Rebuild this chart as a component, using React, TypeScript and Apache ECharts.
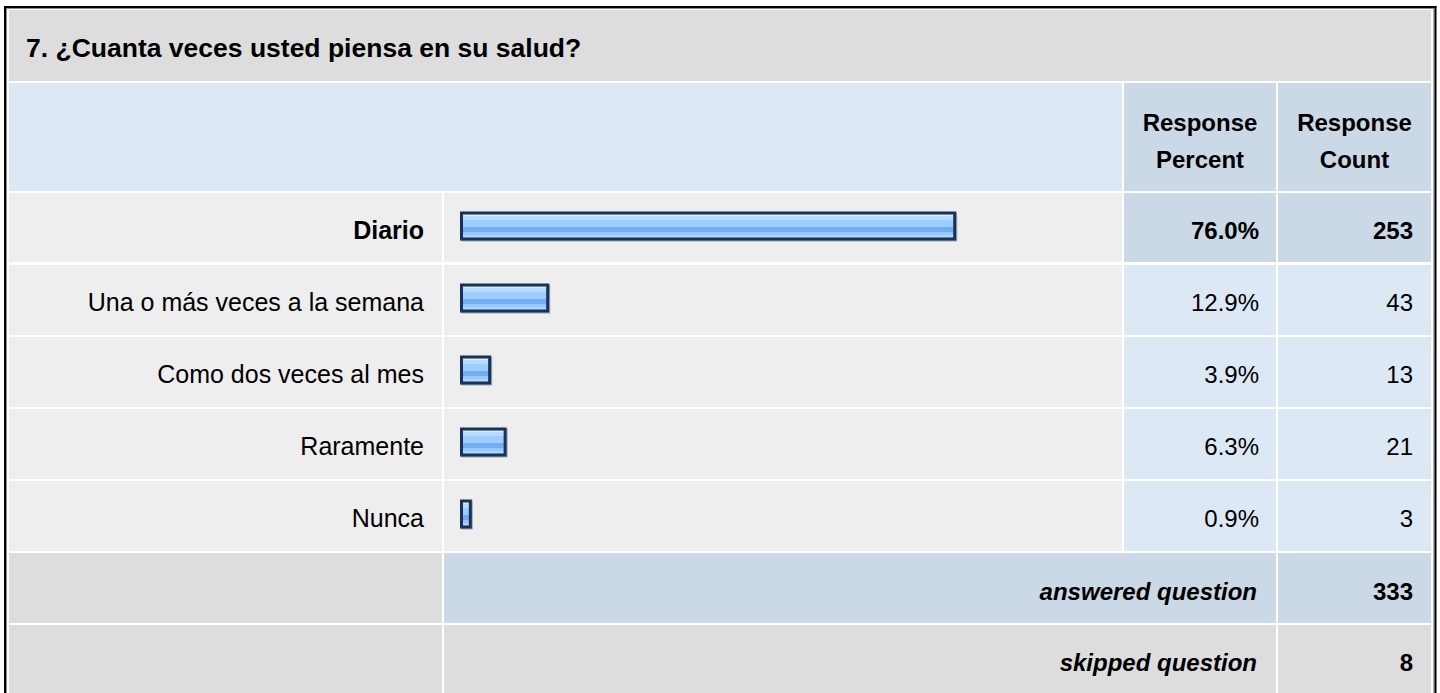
import React, { useEffect, useRef } from "react";
import * as echarts from "echarts";

const title = "7. ¿Cuanta veces usted piensa en su salud?";
const categories = [
  "Diario",
  "Una o más veces a la semana",
  "Como dos veces al mes",
  "Raramente",
  "Nunca",
];
const percents = [76.0, 12.9, 3.9, 6.3, 0.9];
const counts = [253, 43, 13, 21, 3];
const headerPercent = ["Response", "Percent"];
const headerCount = ["Response", "Count"];
const summaryLabels = ["answered question", "skipped question"];
const summaryCounts = [333, 8];

const FONT = '"Liberation Sans", Arial, Helvetica, sans-serif';
const FS = 25;

// layout (page pixels)
const COL = { l0: 9, l1: 442, b0: 444, b1: 1122, p0: 1124, p1: 1276, c0: 1278, c1: 1431 };
const TITLE_ROW = [10, 81];
const HEAD_ROW = [83, 191];
const DATA_ROWS = [
  [193, 262],
  [265, 335],
  [337, 407],
  [409, 479],
  [481, 551],
];
const SUM_ROWS = [
  [553, 623],
  [625, 693],
];

const C_TITLE = "#dddddd";
const C_HEAD = "#dde8f5";
const C_HEAD2 = "#cbd8e6";
const C_ROW = "#eeeeee";
const C_VAL = "#dde8f5";
const C_VALMAX = "#cbd8e6";

function rect(x0: number, x1: number, y0: number, y1: number, fill: string) {
  return { type: "rect", z: 0, shape: { x: x0, y: y0, width: x1 - x0, height: y1 - y0 }, style: { fill } };
}
function text(t: string, x: number, y: number, align: string, opts: any = {}) {
  return {
    type: "text",
    z: 10,
    x,
    y,
    style: {
      text: t,
      fontSize: FS,
      fontFamily: FONT,
      fill: "#000",
      align,
      verticalAlign: "middle",
      ...opts,
    },
  };
}

const barFill = () =>
  new echarts.graphic.LinearGradient(0, 0, 0, 1, [
    { offset: 0, color: "#d2ebff" },
    { offset: 0.12, color: "#d2ebff" },
    { offset: 0.12, color: "#b6dbff" },
    { offset: 0.26, color: "#b6dbff" },
    { offset: 0.26, color: "#9ccdff" },
    { offset: 0.52, color: "#9ccdff" },
    { offset: 0.52, color: "#75adf2" },
    { offset: 0.72, color: "#75adf2" },
    { offset: 0.72, color: "#96c8fd" },
    { offset: 0.86, color: "#96c8fd" },
    { offset: 0.86, color: "#aed5ff" },
    { offset: 1, color: "#aed5ff" },
  ]);

export default function App() {
  const ref = useRef<HTMLDivElement>(null);
  useEffect(() => {
    const chart = echarts.init(ref.current!, null, { renderer: "svg", width: 1440, height: 693 });
    const maxIdx = counts.indexOf(Math.max(...counts));
    const els: any[] = [];
    // outer border
    els.push(rect(4, 1436.5, 6, 8, "#000"));
    els.push(rect(4, 6, 6, 693, "#000"));
    els.push(rect(1434.3, 1436.5, 6, 693, "#000"));
    els.push(rect(6, 1434.3, 8, 9, "#8a8a8a"));
    els.push(rect(6, 7, 8, 693, "#8a8a8a"));
    els.push(rect(1433.3, 1434.3, 8, 693, "#8a8a8a"));
    // title
    els.push(rect(COL.l0, COL.c1, TITLE_ROW[0], TITLE_ROW[1], C_TITLE));
    els.push(text(title, 26, 48, "left", { fontWeight: "bold", fontSize: 26.5 }));
    // header
    els.push(rect(COL.l0, COL.b1, HEAD_ROW[0], HEAD_ROW[1], C_HEAD));
    els.push(rect(COL.p0, COL.p1, HEAD_ROW[0], HEAD_ROW[1], C_HEAD2));
    els.push(rect(COL.c0, COL.c1, HEAD_ROW[0], HEAD_ROW[1], C_HEAD2));
    const pcx = (COL.p0 + COL.p1) / 2;
    const ccx = (COL.c0 + COL.c1) / 2;
    headerPercent.forEach((t, i) => els.push(text(t, pcx, 122 + i * 37.5, "center", { fontWeight: "bold", fontSize: 24 })));
    headerCount.forEach((t, i) => els.push(text(t, ccx, 122 + i * 37.5, "center", { fontWeight: "bold", fontSize: 24 })));
    // data rows
    DATA_ROWS.forEach((r, i) => {
      const vc = i === maxIdx ? C_VALMAX : C_VAL;
      els.push(rect(COL.l0, COL.l1, r[0], r[1], C_ROW));
      els.push(rect(COL.b0, COL.b1, r[0], r[1], C_ROW));
      els.push(rect(COL.p0, COL.p1, r[0], r[1], vc));
      els.push(rect(COL.c0, COL.c1, r[0], r[1], vc));
    });
    // summary rows
    SUM_ROWS.forEach((r, i) => {
      const mid = i === 0 ? C_HEAD2 : C_TITLE;
      els.push(rect(COL.l0, COL.l1, r[0], r[1], C_TITLE));
      els.push(rect(COL.b0, COL.p1, r[0], r[1], mid));
      els.push(rect(COL.c0, COL.c1, r[0], r[1], mid));
      const cy = (r[0] + r[1]) / 2 + 3;
      els.push(text(summaryLabels[i], 1257, cy, "right", { fontWeight: "bold", fontStyle: "italic", fontSize: 24 }));
      els.push(text(String(summaryCounts[i]), 1413, cy, "right", { fontWeight: "bold", fontSize: 24 }));
    });

    const gridLeft = 463;
    const labelBase = {
      fontSize: FS,
      fontFamily: FONT,
      color: "#000",
      padding: [6, 0, 0, 0],
      rich: { b: { fontSize: FS, fontFamily: FONT, color: "#000", fontWeight: "bold" } },
    };
    const valueLabel = {
      ...labelBase,
      fontSize: 24,
      rich: { b: { fontSize: 24, fontFamily: FONT, color: "#000", fontWeight: "bold" } },
    };
    const hidden = { axisLine: { show: false }, axisTick: { show: false }, splitLine: { show: false } };

    const option: any = {
      animation: false,
      backgroundColor: "#ffffff",
      graphic: { elements: els },
      grid: { left: gridLeft, top: 191, width: 645, height: 360, containLabel: false },
      xAxis: { type: "value", min: 0, max: 100, show: false },
      yAxis: [
        {
          type: "category",
          data: categories,
          inverse: true,
          ...hidden,
          axisLabel: {
            ...labelBase,
            margin: 39,
            formatter: (v: string, i: number) => (i === maxIdx ? `{b|${v}}` : v),
          },
        },
        {
          type: "category",
          data: percents.map((p) => p.toFixed(1) + "%"),
          inverse: true,
          position: "left",
          offset: gridLeft - 1259,
          ...hidden,
          axisLabel: {
            ...valueLabel,
            margin: 0,
            formatter: (v: string, i: number) => (i === maxIdx ? `{b|${v}}` : v),
          },
        },
        {
          type: "category",
          data: counts.map((c) => String(c)),
          inverse: true,
          position: "left",
          offset: gridLeft - 1413,
          ...hidden,
          axisLabel: {
            ...valueLabel,
            margin: 0,
            formatter: (v: string, i: number) => (i === maxIdx ? `{b|${v}}` : v),
          },
        },
      ],
      series: [
        {
          type: "custom",
          yAxisIndex: 0,
          z: 5,
          encode: { x: 0, y: 1 },
          data: percents.map((p, i) => [p, i]),
          renderItem: (params: any, api: any) => {
            const v = api.value(0);
            const c = api.value(1);
            const start = api.coord([0, c]);
            const end = api.coord([v, c]);
            const h = 26;
            const x = start[0] - 1.5;
            const w = end[0] - start[0] + 3;
            const y = start[1] - h / 2 - 1;
            return {
              type: "group",
              children: [
                {
                  type: "rect",
                  shape: { x: x + 1, y: y + 1, width: w, height: h },
                  style: { fill: "none", stroke: "rgba(60,80,110,0.45)", lineWidth: 3 },
                },
                {
                  type: "rect",
                  shape: { x, y, width: w, height: h },
                  style: { fill: barFill(), stroke: "#1b3257", lineWidth: 3 },
                },
              ],
            };
          },
        },
      ],
    };
    chart.setOption(option);
    return () => chart.dispose();
  }, []);
  return (
    <div
      ref={ref}
      style={{ position: "absolute", left: 0, top: 0, width: 1440, height: 693, background: "#fff" }}
    />
  );
}
